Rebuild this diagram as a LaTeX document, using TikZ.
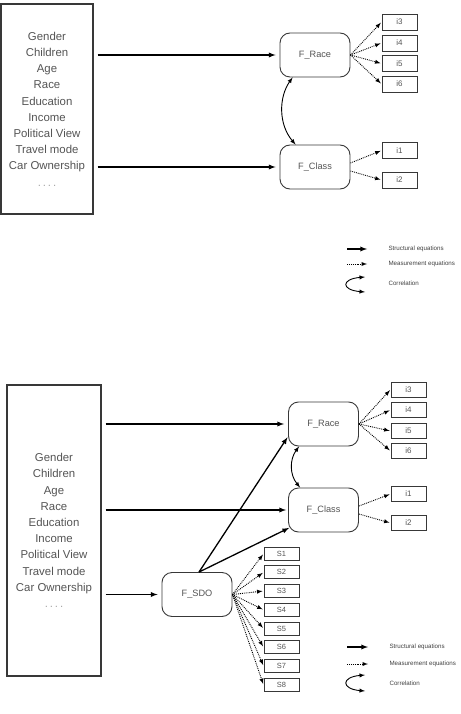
\documentclass[tikz,border=0pt]{standalone}
\usepackage{fontspec}
\setmainfont{Liberation Sans}
\definecolor{boxgray}{gray}{0.22}
\definecolor{textgray}{gray}{0.33}
\newcommand{\moredots}{{\color{gray!70}.\,.\,.\,.}}

\begin{document}
\begin{tikzpicture}[x=1pt,y=-1pt,>=latex,
  every node/.style={text=textgray},
  varbox/.style={draw=boxgray,line width=1.2pt,align=center,inner sep=0pt,
    font=\fontsize{11.4}{16.2}\selectfont},
  latent/.style={draw=boxgray,line width=0.9pt,rounded corners=10pt,inner sep=0pt,
    minimum width=70pt,minimum height=44pt,font=\fontsize{9.2}{11}\selectfont},
  ind/.style={draw=boxgray,line width=0.9pt,inner sep=0pt,minimum width=35pt,
    minimum height=16pt,font=\fontsize{8}{9}\selectfont},
  sdoind/.style={ind,minimum height=13pt,font=\fontsize{7.5}{9}\selectfont},
  struct/.style={->,line width=1.3pt},
  meas/.style={->,densely dotted,line width=0.9pt,shorten >=1pt},
  corr/.style={<->,line width=0.9pt},
  legtext/.style={anchor=west,text=black!75,font=\fontsize{6.2}{7}\selectfont}]
  \useasboundingbox (0,0) rectangle (460,714);
  \begin{scope}
   \node[varbox,minimum width=92pt,minimum height=210pt] (vars1) at (47,109)
     {Gender\\Children\\Age\\Race\\Education\\Income\\Political View\\Travel mode\\Car Ownership\\\moredots};
   \node[latent] (race1) at (315,55) {F\_Race};
   \node[latent] (class1) at (315,167) {F\_Class};
   \node[ind] (i3a) at (399.5,22) {i3};
   \node[ind] (i4a) at (399.5,43) {i4};
   \node[ind] (i5a) at (399.5,63.5) {i5};
   \node[ind] (i6a) at (399.5,84) {i6};
   \node[ind] (i1a) at (399.5,150.5) {i1};
   \node[ind] (i2a) at (399.5,180) {i2};
   \draw[struct,shorten <=4pt,shorten >=4pt] (vars1.east |- race1.west) -- (race1.west);
   \draw[struct,shorten <=4pt,shorten >=4pt] (vars1.east |- class1.west) -- (class1.west);
   \draw[meas] (race1.east) -- (i3a.west);
   \draw[meas] (race1.east) -- (i4a.west);
   \draw[meas] (race1.east) -- (i5a.west);
   \draw[meas] (race1.east) -- (i6a.west);
   \draw[meas] ([yshift=4pt]class1.east) -- (i1a.west);
   \draw[meas] ([yshift=-4pt]class1.east) -- (i2a.west);
   \draw[corr] ([xshift=13pt]race1.south west) .. controls +(-14,20) and +(-17,-20) .. ([xshift=16pt]class1.north west);
   \coordinate (legsa) at (347,249);
   \coordinate (legsb) at (367,249);
   \coordinate (legma) at (347,264);
   \coordinate (legmb) at (367,264);
   \coordinate (legca) at (365,277);
   \coordinate (legcb) at (365,292);
   \draw[struct] (legsa) -- (legsb);
   \draw[->,densely dotted,line width=0.9pt] (legma) -- (legmb);
   \draw[corr] (legca) .. controls (341,279) and (341,290) .. (legcb);
   \node[legtext] (legs1) at (385,249) {Structural equations};
   \node[legtext] (legm1) at (385,264) {Measurement equations};
   \node[legtext] (legc1) at (385,283) {Correlation};
  \end{scope}
  \begin{scope}
   \node[varbox,minimum width=94pt,minimum height=291pt] (vars2) at (54,530.5)
     {Gender\\Children\\Age\\Race\\Education\\Income\\Political View\\Travel mode\\Car Ownership\\\moredots};
   \node[latent] (race2) at (323.5,424) {F\_Race};
   \node[latent] (class2) at (323.5,510) {F\_Class};
   \node[latent] (sdo) at (197,594.5) {F\_SDO};
   \node[ind,minimum height=15pt] (i3b) at (408.5,389.5) {i3};
   \node[ind,minimum height=15pt] (i4b) at (408.5,410) {i4};
   \node[ind,minimum height=15pt] (i5b) at (408.5,431) {i5};
   \node[ind,minimum height=15pt] (i6b) at (408.5,451) {i6};
   \node[ind,minimum height=15pt] (i1b) at (408.5,494) {i1};
   \node[ind,minimum height=15pt] (i2b) at (408.5,523) {i2};
   \node[sdoind] (s1) at (281.5,553.7) {S1};
   \node[sdoind] (s2) at (281.5,572.3) {S2};
   \node[sdoind] (s3) at (281.5,591) {S3};
   \node[sdoind] (s4) at (281.5,609.8) {S4};
   \node[sdoind] (s5) at (281.5,628.5) {S5};
   \node[sdoind] (s6) at (281.5,647.3) {S6};
   \node[sdoind] (s7) at (281.5,666) {S7};
   \node[sdoind] (s8) at (281.5,685) {S8};
   \draw[struct,shorten <=4pt,shorten >=4pt] (vars2.east |- race2.west) -- (race2.west);
   \draw[struct,shorten <=4pt,shorten >=2pt] (vars2.east |- class2.west) -- (class2.west);
   \draw[struct,shorten <=4pt,shorten >=4pt] (vars2.east |- sdo.west) -- (sdo.west);
   \draw[struct,shorten >=1pt] ([xshift=2pt]sdo.north) -- ([yshift=10pt]race2.south west);
   \draw[struct,shorten >=1pt] ([xshift=2pt]sdo.north) -- ([shift={(2pt,5pt)}]class2.south west);
   \draw[meas] (race2.east) -- (i3b.west);
   \draw[meas] (race2.east) -- (i4b.west);
   \draw[meas] (race2.east) -- (i5b.west);
   \draw[meas] (race2.east) -- (i6b.west);
   \draw[meas] ([yshift=4pt]class2.east) -- (i1b.west);
   \draw[meas] ([yshift=-4pt]class2.east) -- (i2b.west);
   \draw[meas] (sdo.east) -- (s1.west);
   \draw[meas] (sdo.east) -- (s2.west);
   \draw[meas] (sdo.east) -- (s3.west);
   \draw[meas] (sdo.east) -- (s4.west);
   \draw[meas] (sdo.east) -- (s5.west);
   \draw[meas] (sdo.east) -- (s6.west);
   \draw[meas] (sdo.east) -- (s7.west);
   \draw[meas] (sdo.east) -- (s8.west);
   \draw[corr] ([xshift=11pt]race2.south west) .. controls +(-9.5,13) and +(-10.5,-13) .. ([xshift=12pt]class2.north west);
   \coordinate (legsc) at (347,647);
   \coordinate (legsd) at (368,647);
   \coordinate (legmc) at (347,664);
   \coordinate (legmd) at (368,664);
   \coordinate (legcc) at (365,675);
   \coordinate (legcd) at (365,691);
   \draw[struct] (legsc) -- (legsd);
   \draw[->,densely dotted,line width=0.9pt] (legmc) -- (legmd);
   \draw[corr] (legcc) .. controls (341,677) and (341,689) .. (legcd);
   \node[legtext] (legs2) at (386,647) {Structural equations};
   \node[legtext] (legm2) at (386,664) {Measurement equations};
   \node[legtext] (legc2) at (386,683) {Correlation};
  \end{scope}
\end{tikzpicture}
\end{document}
